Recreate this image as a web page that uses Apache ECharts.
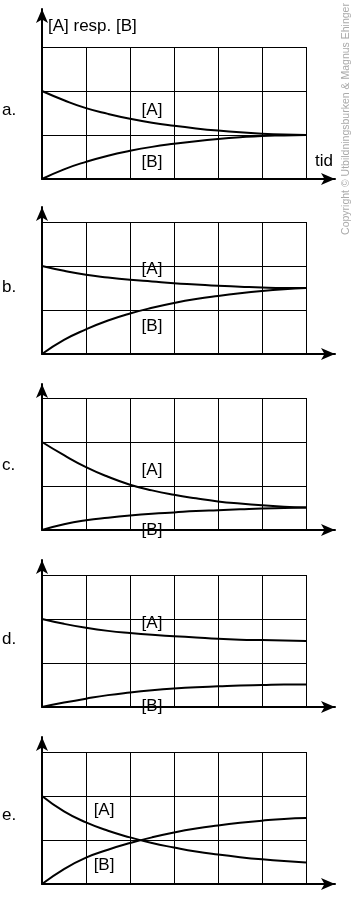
<!DOCTYPE html>
<html>
<head>
<meta charset="utf-8">
<script src="https://cdn.jsdelivr.net/npm/echarts@6/dist/echarts.min.js"></script>
<style>
  html, body { margin: 0; background: #fff; }
  #chart { width: 352px; height: 900px; }
</style>
</head>
<body>
<div id="chart"></div>
<script>
// time points (x, one grid column = 1)
const tid = [0, 0.5, 1, 1.5, 2, 2.5, 3, 3.5, 4, 4.5, 5, 5.5, 6];
const panels = ['a.', 'b.', 'c.', 'd.', 'e.'];

// [A] per panel
const concA = [
  [2.0, 1.79, 1.61, 1.48, 1.37, 1.28, 1.21, 1.15, 1.10, 1.06, 1.03, 1.01, 1.00],
  [2.0, 1.89, 1.80, 1.74, 1.69, 1.65, 1.61, 1.58, 1.55, 1.53, 1.51, 1.50, 1.50],
  [2.0, 1.70, 1.43, 1.21, 1.03, 0.90, 0.80, 0.72, 0.65, 0.60, 0.56, 0.53, 0.51],
  [2.0, 1.89, 1.80, 1.73, 1.68, 1.64, 1.61, 1.58, 1.55, 1.53, 1.52, 1.51, 1.50],
  [2.0, 1.65, 1.40, 1.21, 1.06, 0.93, 0.83, 0.74, 0.67, 0.61, 0.56, 0.52, 0.49]
];
// [B] per panel
const concB = [
  [0, 0.22, 0.39, 0.53, 0.64, 0.73, 0.80, 0.86, 0.91, 0.95, 0.98, 0.99, 1.00],
  [0, 0.32, 0.56, 0.76, 0.92, 1.05, 1.16, 1.25, 1.32, 1.38, 1.43, 1.47, 1.50],
  [0, 0.13, 0.22, 0.28, 0.33, 0.37, 0.40, 0.43, 0.45, 0.47, 0.49, 0.50, 0.51],
  [0, 0.10, 0.19, 0.27, 0.33, 0.38, 0.42, 0.45, 0.47, 0.49, 0.50, 0.51, 0.51],
  [0, 0.34, 0.60, 0.78, 0.93, 1.06, 1.17, 1.26, 1.33, 1.39, 1.44, 1.48, 1.50]
];
// where the curve names sit (data coords)
const labelA = [[2.5, 1.55], [2.5, 1.92], [2.5, 1.35], [2.5, 1.91], [1.41, 1.67]];
const labelB = [[2.5, 0.37], [2.5, 0.63], [2.5, 0.0], [2.5, 0.02], [1.41, 0.42]];

const yName = '[A] resp. [B]';
const xName = 'tid';

// layout
const gridTop = [47, 222, 398, 575, 752];
const arrowTop = [9, 207, 384, 560, 737];
const letterY = [110, 287, 465, 639, 815];
const FONT = '"Liberation Sans", Arial, sans-serif';

const chart = echarts.init(document.getElementById('chart'));

const grid = [], xAxis = [], yAxis = [], series = [], graphic = [];

panels.forEach((p, i) => {
  // cell grid
  grid.push({ left: 42, top: gridTop[i], width: 264, height: 132 });
  // grid just for the arrow axes
  grid.push({ left: 42, top: arrowTop[i], width: 293, height: gridTop[i] + 132 - arrowTop[i] });

  const cellLine = { show: true, lineStyle: { color: '#000', width: 1 } };
  xAxis.push({
    gridIndex: 2 * i, type: 'value', min: 0, max: 6, interval: 1,
    axisLine: { show: false }, axisTick: { show: false }, axisLabel: { show: false },
    splitLine: cellLine
  });
  yAxis.push({
    gridIndex: 2 * i, type: 'value', min: 0, max: 3, interval: 1,
    axisLine: { show: false }, axisTick: { show: false }, axisLabel: { show: false },
    splitLine: cellLine
  });

  const arrowLine = {
    show: true, symbol: ['none', 'arrow'], symbolSize: [9, 14],
    lineStyle: { color: '#000', width: 2 }
  };
  xAxis.push({
    gridIndex: 2 * i + 1, type: 'value', min: 0, max: 1,
    axisLine: arrowLine, axisTick: { show: false }, axisLabel: { show: false },
    splitLine: { show: false },
    name: i === 0 ? xName : '', nameLocation: 'end', nameGap: -20,
    nameTextStyle: { color: '#000', fontSize: 17, fontFamily: FONT, align: 'left', verticalAlign: 'bottom', padding: [0, 0, 9, 0] }
  });
  yAxis.push({
    gridIndex: 2 * i + 1, type: 'value', min: 0, max: 1,
    axisLine: arrowLine, axisTick: { show: false }, axisLabel: { show: false },
    splitLine: { show: false },
    name: i === 0 ? yName : '', nameLocation: 'end', nameGap: -17,
    nameTextStyle: { color: '#000', fontSize: 17, fontFamily: FONT, align: 'left', verticalAlign: 'middle', padding: [0, 0, 0, 6] }
  });

  const curve = (vals) => ({
    type: 'line', xAxisIndex: 2 * i, yAxisIndex: 2 * i,
    data: tid.map((t, k) => [t, vals[k]]),
    smooth: 0.5, showSymbol: false, symbol: 'none',
    lineStyle: { color: '#000', width: 2 }, z: 3
  });
  series.push(curve(concA[i]));
  series.push(curve(concB[i]));

  series.push({
    type: 'scatter', xAxisIndex: 2 * i, yAxisIndex: 2 * i,
    symbolSize: 0, itemStyle: { color: '#000' }, z: 4,
    data: [
      { name: '[A]', value: labelA[i] },
      { name: '[B]', value: labelB[i] }
    ],
    label: {
      show: true, position: 'inside', formatter: '{b}',
      color: '#000', fontSize: 17, fontFamily: FONT,
      textBorderWidth: 0, opacity: 1
    }
  });

  graphic.push({
    type: 'text', x: 2, y: letterY[i],
    style: { text: p, fill: '#000', font: '17px ' + FONT, verticalAlign: 'middle' }
  });
});

graphic.push({
  type: 'text', x: 346, y: 119, rotation: Math.PI / 2,
  style: {
    text: 'Copyright © Utbildningsburken & Magnus Ehinger',
    fill: '#aaa', font: '10.5px ' + FONT, align: 'center', verticalAlign: 'middle'
  }
});

chart.setOption({
  animation: false,
  backgroundColor: '#fff',
  grid, xAxis, yAxis, series, graphic
});
</script>
</body>
</html>
